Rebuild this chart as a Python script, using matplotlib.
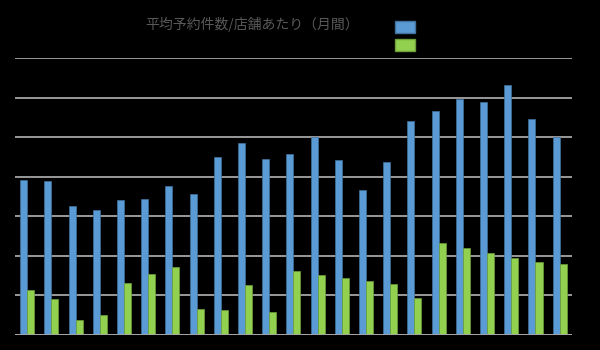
import numpy as np
import matplotlib.pyplot as plt
from matplotlib.patches import Patch

plt.rcParams['font.family'] = ['Noto Sans CJK JP', 'DejaVu Sans']

title = '平均予約件数/店舗あたり（月間）'
series_names = ['全体', '新規']
blue_vals = [39.1, 38.9, 32.6, 31.5, 34.2, 34.3, 37.5, 35.7, 45.0, 48.6, 44.4, 45.6,
             50.1, 44.2, 36.5, 43.7, 54.0, 56.7, 59.7, 58.8, 63.2, 54.6, 50.1]
green_vals = [11.2, 9.0, 3.6, 5.0, 13.0, 15.4, 17.2, 6.5, 6.2, 12.5, 5.8, 16.2,
              15.2, 14.4, 13.5, 12.9, 9.2, 23.2, 21.9, 20.6, 19.5, 18.5, 17.8]
y_ticks = [0, 10, 20, 30, 40, 50, 60, 70]

blue = '#5B9BD5'
green = '#92D050'

fig = plt.figure(figsize=(6, 3.5), dpi=100)
fig.patch.set_facecolor('black')
ax = fig.add_axes([0.025, 0.044, 0.928, 0.79])
ax.set_facecolor('black')

x = np.arange(len(blue_vals))
w = 0.29
ax.bar(x - w / 2, blue_vals, w, color=blue, edgecolor='#41719C', linewidth=0.5, zorder=3)
ax.bar(x + w / 2, green_vals, w, color=green, edgecolor='#6F9E3A', linewidth=0.5, zorder=3)

ax.set_xlim(-0.5, len(blue_vals) - 0.5)
ax.set_ylim(0, 70)
ax.set_yticks(y_ticks)
ax.yaxis.grid(True, color='#A6A6A6', linewidth=1.3, zorder=0)
ax.tick_params(left=False, bottom=False, labelleft=False, labelbottom=False)
for s in ax.spines.values():
    s.set_visible(False)
ax.axhline(0, color='#A6A6A6', linewidth=1.3, zorder=4)

fig.text(0.42, 0.93, title, color='#595959', fontsize=10, ha='center', va='center')

handles = [Patch(facecolor=blue, edgecolor='#41719C'), Patch(facecolor=green, edgecolor='#6F9E3A')]
leg = fig.legend(handles, series_names, loc='upper left', bbox_to_anchor=(0.637, 0.977),
                 frameon=False, handlelength=1.45, handleheight=1.0, labelspacing=0.3,
                 fontsize=10, labelcolor='black')

plt.savefig('out.png', dpi=100, facecolor='black')
plt.close()
